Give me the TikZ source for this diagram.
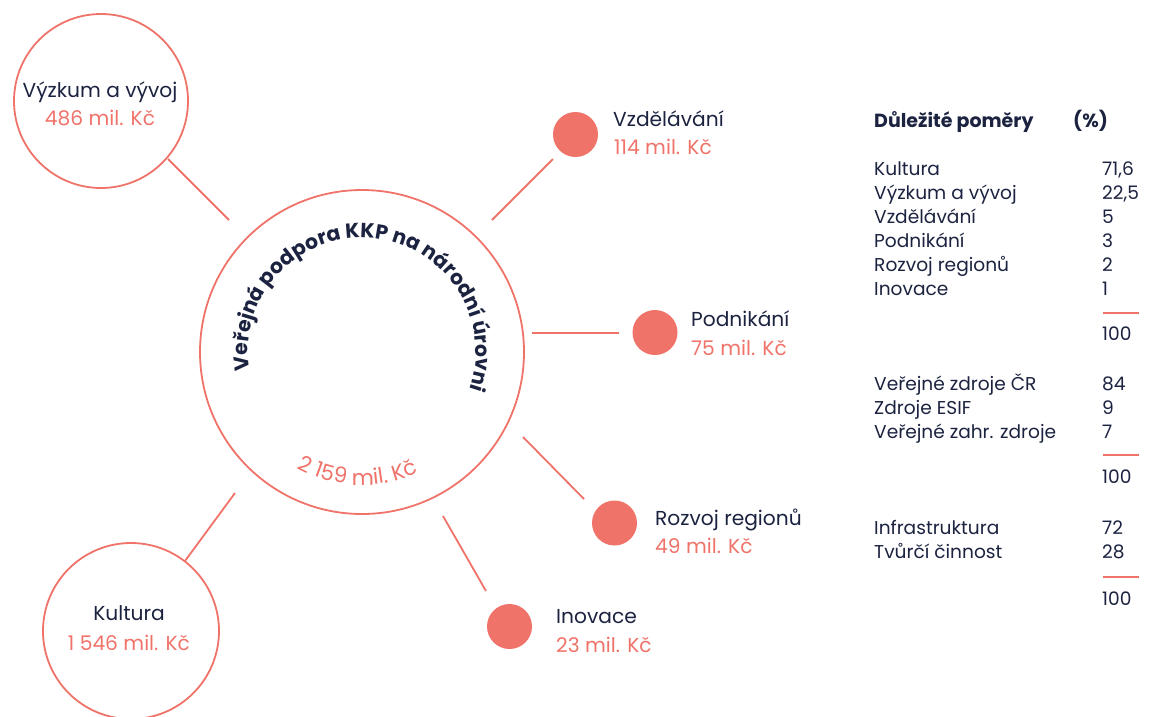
\documentclass[tikz,border=0pt]{standalone}
\usepackage{fontspec}
\setmainfont{Poppins}
\usetikzlibrary{decorations.text}
\definecolor{salmon}{HTML}{F0736A}
\definecolor{navy}{HTML}{1C2340}
\tikzset{
  ring/.style={circle, draw=salmon, line width=1.8pt, inner sep=0pt},
  blob/.style={circle, fill=salmon, inner sep=0pt, minimum size=45pt},
  link/.style={draw=salmon, line width=1.8pt},
  nm/.style={text=navy, font=\fontsize{20.2}{24}\selectfont, inner sep=0pt},
  amt/.style={text=salmon, font=\fontsize{20.2}{24}\selectfont, inner sep=0pt},
  tb/.style={text=navy, font=\fontsize{18.6}{22}\selectfont, inner sep=0pt, anchor=base west},
  tbh/.style={text=navy, font=\fontsize{19}{22}\selectfont\bfseries, inner sep=0pt, anchor=base west},
  rule/.style={draw=salmon, line width=1.8pt}
}
\begin{document}
\begin{tikzpicture}[x=1pt,y=1pt]
\useasboundingbox[fill=white] (0,0) rectangle (1149,-716);

% circles
\node[ring, minimum size=324pt] (ctr) at (362,-352) {};
\node[ring, minimum size=174pt] (vyz) at (101,-101) {};
\node[ring, minimum size=176pt] (kul) at (131,-631) {};
\node[blob] (vzd) at (575.5,-134.5) {};
\node[blob] (pod) at (655,-332.5) {};
\node[blob] (roz) at (614.5,-523) {};
\node[blob] (ino) at (509.5,-626.5) {};

% connectors
\coordinate (a1) at (168,-159); \coordinate (b1) at (229,-220);
\coordinate (a2) at (492,-220); \coordinate (b2) at (553,-159);
\coordinate (a3) at (532,-333); \coordinate (b3) at (619,-333);
\coordinate (a4) at (523,-437); \coordinate (b4) at (584,-499);
\coordinate (a5) at (443,-516); \coordinate (b5) at (486,-591);
\coordinate (a6) at (235,-493); \coordinate (b6) at (185,-561);
\draw[link] (a1) -- (b1);
\draw[link] (a2) -- (b2);
\draw[link] (a3) -- (b3);
\draw[link] (a4) -- (b4);
\draw[link] (a5) -- (b5);
\draw[link] (a6) -- (b6);

% curved titles
\path[decorate, decoration={text along path, text align=center,
  text={|\fontsize{20.4}{20}\selectfont\bfseries\color{navy}|Veřejná podpora KKP na národní úrovni}}]
  (ctr.center) ++(197:114) arc[start angle=197, end angle=-27, radius=114];
\path[decorate, decoration={text along path, text align=center,
  text={|\fontsize{21.5}{20}\selectfont\color{salmon}|2 159 mil. Kč}}]
  (ctr.center) ++(228:133) arc[start angle=228, end angle=308, radius=133];

% circle labels
\node[nm, anchor=base] (vyzN) at (100,-97) {Výzkum a vývoj};
\node[amt, anchor=base] (vyzA) at (100,-125) {486 mil. Kč};
\node[nm, anchor=base] (kulN) at (129,-620) {Kultura};
\node[amt, anchor=base] (kulA) at (129,-650) {1 546 mil. Kč};

% dot labels
\node[nm, anchor=base west] (vzdN) at (613,-126) {Vzdělávání};
\node[amt, anchor=base west] (vzdA) at (614,-154) {114 mil. Kč};
\node[nm, anchor=base west] (podN) at (691,-326) {Podnikání};
\node[amt, anchor=base west] (podA) at (691,-355) {75 mil. Kč};
\node[nm, anchor=base west] (rozN) at (655,-525) {Rozvoj regionů};
\node[amt, anchor=base west] (rozA) at (655,-553) {49 mil. Kč};
\node[nm, anchor=base west] (inoN) at (556,-623) {Inovace};
\node[amt, anchor=base west] (inoA) at (556,-652) {23 mil. Kč};

% table
\node[tbh] (th1) at (874,-127) {Důležité poměry};
\node[tbh] (th2) at (1073,-127) {(\%)};

\node[tb] (r1) at (874,-175) {Kultura};          \node[tb] (v1) at (1102,-175) {71,6};
\node[tb] (r2) at (874,-199) {Výzkum a vývoj};   \node[tb] (v2) at (1102,-199) {22,5};
\node[tb] (r3) at (874,-223) {Vzdělávání};       \node[tb] (v3) at (1102,-223) {5};
\node[tb] (r4) at (874,-247) {Podnikání};        \node[tb] (v4) at (1102,-247) {3};
\node[tb] (r5) at (874,-271) {Rozvoj regionů};   \node[tb] (v5) at (1102,-271) {2};
\node[tb] (r6) at (874,-295) {Inovace};          \node[tb] (v6) at (1102,-295) {1};
\coordinate (s1a) at (1103,-313); \coordinate (s1b) at (1139,-313);
\draw[rule] (s1a) -- (s1b);
\node[tb] (t1) at (1102,-340) {100};

\node[tb] (r7) at (874,-390) {Veřejné zdroje ČR};    \node[tb] (v7) at (1102,-390) {84};
\node[tb] (r8) at (874,-414) {Zdroje ESIF};          \node[tb] (v8) at (1102,-414) {9};
\node[tb] (r9) at (874,-438) {Veřejné zahr. zdroje}; \node[tb] (v9) at (1102,-438) {7};
\coordinate (s2a) at (1103,-455); \coordinate (s2b) at (1139,-455);
\draw[rule] (s2a) -- (s2b);
\node[tb] (t2) at (1102,-483) {100};

\node[tb] (r10) at (874,-534) {Infrastruktura};  \node[tb] (v10) at (1102,-534) {72};
\node[tb] (r11) at (874,-558) {Tvůrčí činnost};  \node[tb] (v11) at (1102,-558) {28};
\coordinate (s3a) at (1103,-577); \coordinate (s3b) at (1139,-577);
\draw[rule] (s3a) -- (s3b);
\node[tb] (t3) at (1102,-605) {100};
\end{tikzpicture}
\end{document}
